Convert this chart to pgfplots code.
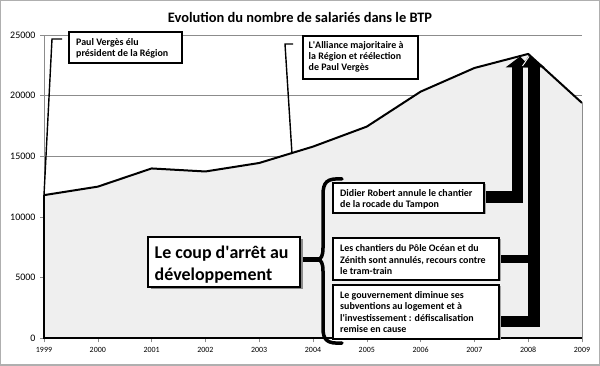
\documentclass[border=0pt]{standalone}
\usepackage{pgfplots}
\pgfplotsset{compat=1.18}
\usepackage{fontspec}
\setmainfont{Carlito}
\usetikzlibrary{shadows}
\definecolor{areafill}{RGB}{239,239,239}
\definecolor{gridgray}{RGB}{140,140,140}
\definecolor{framegray}{RGB}{175,175,175}
\newcommand{\boxline}[3]{\node[anchor=base west, inner sep=0pt] at (#1,#2) {#3};}

\begin{document}
\begin{tikzpicture}
\path[use as bounding box] (0,0) rectangle (600bp,366bp);
\begin{axis}[
  at={(44bp,27.7bp)}, anchor=south west,
  scale only axis, width=538bp, height=303.3bp,
  xmin=1999, xmax=2009, ymin=0, ymax=25000,
  axis lines*=left, axis line style={draw=gridgray, line width=0.6bp},
  xtick={1999,2000,2001,2002,2003,2004,2005,2006,2007,2008,2009},
  ytick={0,5000,10000,15000,20000,25000},
  tick style={draw=gridgray, line width=0.6bp},
  tick align=outside, major tick length=4bp,
  ymajorgrids, grid style={draw=gridgray, line width=0.6bp},
  scaled y ticks=false,
  /pgf/number format/1000 sep={},
  /pgf/number format/assume math mode=true,
  xticklabel style={font=\fontsize{8}{9}\selectfont, yshift=-1.5bp},
  yticklabel style={font=\fontsize{10}{11}\selectfont, xshift=-1bp},
  clip=false,
]
\addplot[fill=areafill, draw=none] coordinates {
 (1999,11800) (2000,12500) (2001,14000) (2002,13750) (2003,14450) (2004,15800)
 (2005,17450) (2006,20330) (2007,22280) (2008,23440) (2009,19400)} \closedcycle;
\addplot[black, line width=2bp, line join=round] coordinates {
 (1999,11800) (2000,12500) (2001,14000) (2002,13750) (2003,14450) (2004,15800)
 (2005,17450) (2006,20330) (2007,22280) (2008,23440) (2009,19400)};
\draw[gridgray, line width=0.8bp] (axis cs:2009,0) -- (axis cs:2009,19400);
\draw[black, line width=1.8bp] (axis cs:1999,11800) -- (axis cs:1999,0) -- (axis cs:2009,0);
\end{axis}

\begin{scope}[x=1bp, y=-1bp, shift={(0,366bp)}]
\draw[framegray, line width=1.5bp] (0.75,0.75) rectangle (599.25,365.25);
\node[font=\bfseries\fontsize{14.5}{17}\selectfont] at (300,17) {Evolution du nombre de salariés dans le BTP};

% callout lines
\draw[line width=1.4bp] (44,195) -- (52,39) -- (62,39);
\draw[line width=1.4bp] (292,154) -- (285,44) -- (293,44);

% top boxes
\begin{scope}[font=\bfseries\fontsize{10}{11.5}\selectfont]
\draw[line width=1.5bp, fill=white] (69,32) rectangle (182,63);
\boxline{76}{46}{Paul Vergès élu}
\boxline{76}{57}{président de la Région}
\draw[line width=1.5bp, fill=white] (303,36) rectangle (418,79);
\boxline{308.5}{48.5}{L\textquotesingle Alliance majoritaire à}
\boxline{308.5}{59.5}{la Région et réélection}
\boxline{308.5}{70.5}{de Paul Vergès}
\end{scope}

% arrows
\fill (484,191.5) rectangle (523,203);
\fill (512,67) rectangle (523,203);
\fill (499,316.5) rectangle (539.5,327);
\fill (499,255) rectangle (528,263.5);
\fill (528,67) rectangle (539.5,327);
\fill (505.5,67.5) -- (520,56.5) -- (531,67.5) -- cycle;
\fill (521,67.5) -- (529,55.5) -- (545,67.5) -- cycle;
\draw[white, line width=0.9bp] (522.5,66) -- (529,56.5);

% brace
\draw[line width=5bp] (299,259.5) -- (321,259.5);
\draw[line width=3.5bp, line cap=round] (342,179) .. controls (327,178) and (323,182) .. (323,195) -- (323,248) .. controls (323,256) and (321,259) .. (318,259.5) .. controls (321,260) and (323,263) .. (323,271) -- (323,328) .. controls (323,340) and (327,344) .. (342,343);

% big box
\draw[line width=2bp, fill=white, drop shadow={shadow xshift=2.5bp, shadow yshift=-2.5bp, fill=black!45, opacity=1}] (148,237) rectangle (300,287);
\begin{scope}[font=\bfseries\fontsize{18}{21.5}\selectfont]
\boxline{154.5}{259}{Le coup d\textquotesingle arrêt au}
\boxline{154.5}{280.5}{développement}
\end{scope}

% right boxes
\begin{scope}[font=\bfseries\fontsize{10}{11.5}\selectfont]
\draw[line width=2bp, fill=white, drop shadow={shadow xshift=1.5bp, shadow yshift=-1.5bp, fill=black!35, opacity=1}] (333,183) rectangle (484,213);
\boxline{340}{196.5}{Didier Robert annule le chantier}
\boxline{340}{207.5}{de la rocade du Tampon}
\draw[line width=2bp, fill=white, drop shadow={shadow xshift=1.5bp, shadow yshift=-1.5bp, fill=black!35, opacity=1}] (333,238) rectangle (499,280);
\boxline{340}{252}{Les chantiers du Pôle Océan et du}
\boxline{340}{263.3}{Zénith sont annulés, recours contre}
\boxline{340}{274.5}{le tram-train}
\draw[line width=2bp, fill=white, drop shadow={shadow xshift=1.5bp, shadow yshift=-1.5bp, fill=black!35, opacity=1}] (333,285) rectangle (499,339);
\boxline{340}{298.5}{Le gouvernement diminue ses}
\boxline{340}{310}{subventions au logement et à}
\boxline{340}{321.5}{l\textquotesingle investissement : défiscalisation}
\boxline{340}{333}{remise en cause}
\end{scope}
\end{scope}
\end{tikzpicture}
\end{document}
